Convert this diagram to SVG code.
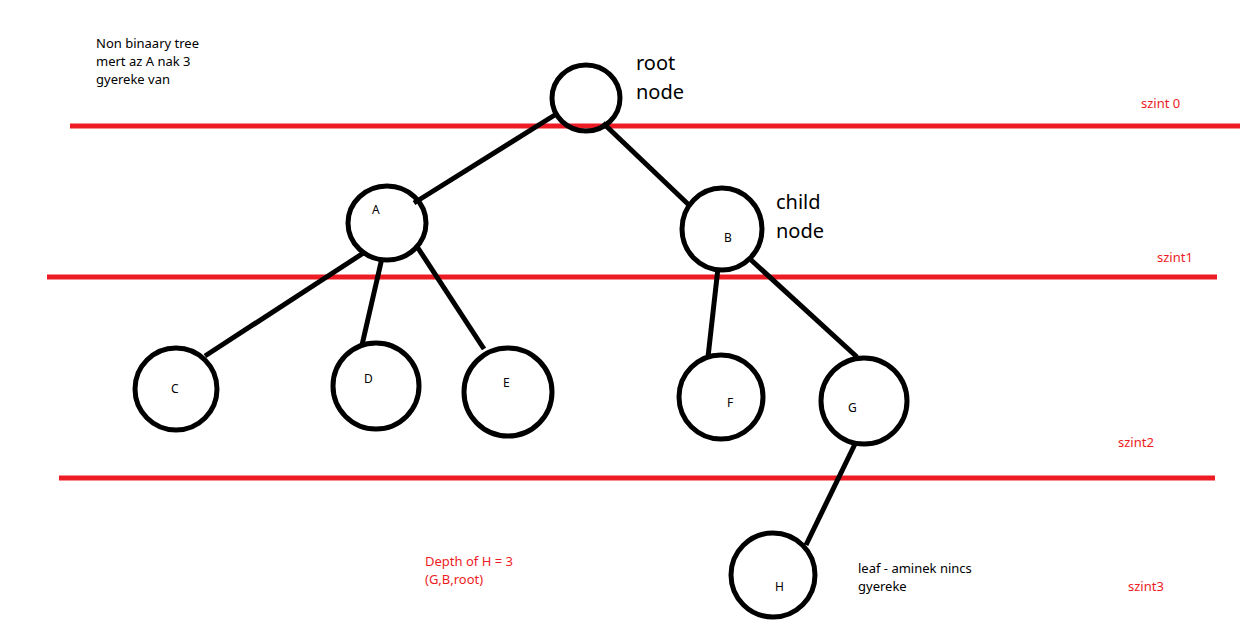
<svg xmlns="http://www.w3.org/2000/svg" width="1247" height="635" viewBox="0 0 1247 635">
<style>
.n{fill:none;stroke:#000;stroke-width:5}
.e{stroke:#000;stroke-width:5;stroke-linecap:butt}
.lv{stroke:#ed1c24;stroke-width:5}
.t{font-family:"Noto Sans","Liberation Sans",sans-serif;font-size:13px;fill:#000}
.big{font-family:"Noto Sans","Liberation Sans",sans-serif;font-size:20px;fill:#000}
.lb{font-family:"Noto Sans","Liberation Sans",sans-serif;font-size:12px;fill:#000}
.r{font-family:"Noto Sans","Liberation Sans",sans-serif;font-size:13px;fill:#ed1c24}
</style>
<rect width="1247" height="635" fill="#fff"/>
<g id="levels">
<line class="lv" x1="70" y1="126" x2="1240" y2="126"/>
<line class="lv" x1="47" y1="277" x2="1217" y2="277"/>
<line class="lv" x1="59" y1="478" x2="1215" y2="478"/>
</g>
<g id="connectors">
<line class="e" x1="558" y1="113" x2="414" y2="203"/>
<line class="e" x1="603" y1="123" x2="690" y2="206"/>
<line class="e" x1="365" y1="252" x2="205" y2="356"/>
<line class="e" x1="382" y1="258" x2="362" y2="345"/>
<line class="e" x1="416" y1="245" x2="484" y2="349"/>
<line class="e" x1="718" y1="268" x2="708" y2="357"/>
<line class="e" x1="750" y1="259" x2="857" y2="357"/>
<line class="e" x1="855" y1="444" x2="806" y2="545"/>
</g>
<g id="root"><ellipse class="n" cx="586" cy="98" rx="34" ry="33"/></g>
<g id="A"><ellipse class="n" cx="387" cy="223" rx="39" ry="37"/><text class="lb" x="372" y="214">A</text></g>
<g id="B"><ellipse class="n" cx="722" cy="229" rx="40" ry="41"/><text class="lb" x="724" y="242">B</text></g>
<g id="C"><ellipse class="n" cx="176" cy="389" rx="41" ry="41"/><text class="lb" x="171" y="393">C</text></g>
<g id="D"><ellipse class="n" cx="376" cy="386" rx="43" ry="43"/><text class="lb" x="364" y="383">D</text></g>
<g id="E"><ellipse class="n" cx="508" cy="392" rx="44" ry="44"/><text class="lb" x="503" y="387">E</text></g>
<g id="F"><ellipse class="n" cx="721" cy="397" rx="42" ry="42"/><text class="lb" x="727" y="407">F</text></g>
<g id="G"><ellipse class="n" cx="864" cy="401" rx="43" ry="43"/><text class="lb" x="848" y="412">G</text></g>
<g id="H"><ellipse class="n" cx="773" cy="575" rx="42" ry="42"/><text class="lb" x="775" y="591">H</text></g>
<g id="notes">
<text class="t" x="96" y="48">Non binaary tree</text>
<text class="t" x="96" y="66">mert az A nak 3</text>
<text class="t" x="96" y="84">gyereke van</text>
<text class="big" x="636" y="70">root</text>
<text class="big" x="636" y="99">node</text>
<text class="big" x="776" y="209">child</text>
<text class="big" x="776" y="238">node</text>
<text class="r" x="1141" y="108">szint 0</text>
<text class="r" x="1157" y="262">szint1</text>
<text class="r" x="1118" y="447">szint2</text>
<text class="r" x="1128" y="591">szint3</text>
<text class="r" x="425" y="566">Depth of H = 3</text>
<text class="r" x="425" y="584">(G,B,root)</text>
<text class="t" x="858" y="573">leaf - aminek nincs</text>
<text class="t" x="858" y="591">gyereke</text>
</g>
</svg>
